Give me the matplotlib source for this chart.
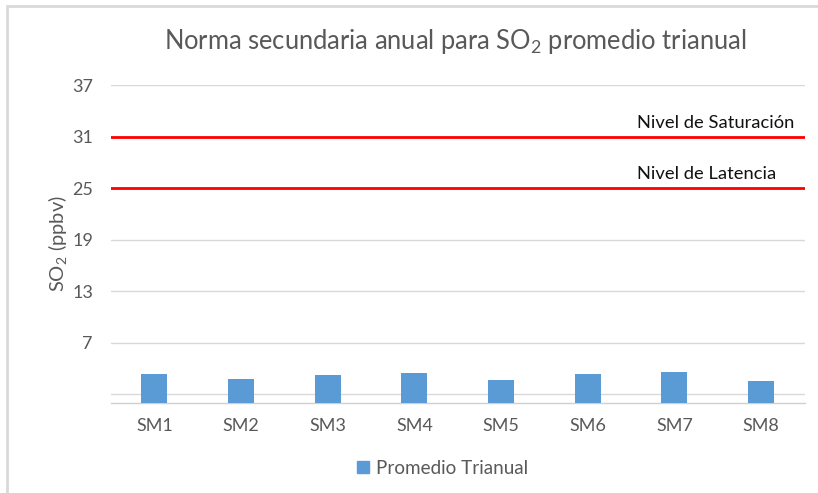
import matplotlib
matplotlib.use("Agg")
import matplotlib.pyplot as plt
from matplotlib.patches import Rectangle, Patch
from matplotlib.transforms import blended_transform_factory

categories = ["SM1", "SM2", "SM3", "SM4", "SM5", "SM6", "SM7", "SM8"]
promedio = [3.33, 2.78, 3.21, 3.48, 2.67, 3.33, 3.60, 2.55]
saturacion = 31
latencia = 25
yticks = [1, 7, 13, 19, 25, 31, 37]
ytick_labels = ["", "7", "13", "19", "25", "31", "37"]

FONT = ["Lato", "DejaVu Sans"]
plt.rcParams["font.family"] = FONT
plt.rcParams["mathtext.fontset"] = "custom"
plt.rcParams["mathtext.rm"] = "Lato"

fig = plt.figure(figsize=(8.18, 4.93), dpi=100)
fig.patches.append(Rectangle((7/818, -0.1), 1.2, 1.1 - 6/493, transform=fig.transFigure,
                             fill=False, edgecolor="#d9d9d9", linewidth=2))
ax = fig.add_axes([111/818, (493-403)/493, 693.5/818, 318/493])

x = list(range(len(categories)))
ax.bar(x, promedio, width=0.30, color="#5b9bd5", zorder=3)
ax.axhline(saturacion, color="#ff0000", linewidth=2, zorder=4)
ax.axhline(latencia, color="#ff0000", linewidth=2, zorder=4)

ax.set_xlim(-0.5, len(categories) - 0.5)
ax.set_ylim(0, 37)
ax.set_yticks(yticks)
ax.set_yticklabels(ytick_labels)
ax.set_xticks(x)
ax.set_xticklabels(categories)
ax.grid(axis="y", color="#d9d9d9", linewidth=1, zorder=0)
ax.tick_params(axis="both", length=0, labelsize=13, colors="#595959")
ax.tick_params(axis="x", pad=11)
ax.tick_params(axis="y", pad=13)
for s in ["top", "right", "left"]:
    ax.spines[s].set_visible(False)
ax.spines["bottom"].set_color("#d0d0d0")
ax.spines["bottom"].set_linewidth(1)

tr = blended_transform_factory(fig.transFigure, ax.transData)
ax.text(637/818, saturacion + 0.7, "Nivel de Saturación", transform=tr,
        ha="left", va="bottom", fontsize=13.2, color="#111111")
ax.text(637/818, latencia + 0.7, "Nivel de Latencia", transform=tr,
        ha="left", va="bottom", fontsize=13.2, color="#111111")

ax.set_ylabel("$\\mathregular{SO_2}$ (ppbv)", fontsize=14.5, color="#595959", labelpad=2)

fig.text(455/818, 1 - 42/493, "Norma secundaria anual para $\\mathregular{SO_2}$ promedio trianual",
         ha="center", va="center", fontsize=18.4, color="#595959")

fig.legend(handles=[Patch(color="#5b9bd5", label="Promedio Trianual")],
           loc="center", bbox_to_anchor=(443/818, 1 - 468/493), frameon=False,
           fontsize=13.6, handlelength=0.6, handleheight=0.6, handletextpad=0.4,
           labelcolor="#595959")

fig.savefig("out.png", dpi=100)
